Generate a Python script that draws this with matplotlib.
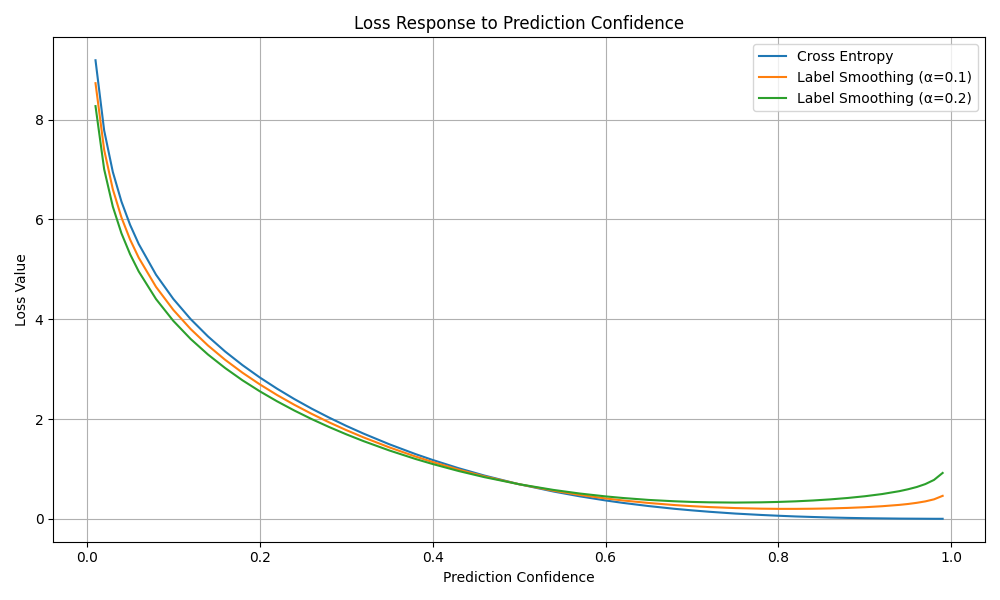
import matplotlib
matplotlib.use("Agg")
import matplotlib.pyplot as plt
import numpy as np

# prediction confidence values (x) and loss values
confidence = [0.01, 0.02, 0.03, 0.04, 0.05, 0.06, 0.08, 0.10, 0.12, 0.14,
              0.16, 0.18, 0.20, 0.22, 0.24, 0.26, 0.28, 0.30, 0.32, 0.35,
              0.38, 0.40, 0.43, 0.46, 0.50, 0.54, 0.57, 0.60, 0.62, 0.65,
              0.68, 0.70, 0.72, 0.75, 0.78, 0.80, 0.82, 0.84, 0.86, 0.88,
              0.90, 0.92, 0.94, 0.95, 0.96, 0.97, 0.98, 0.99]

cross_entropy = [9.190, 7.784, 6.953, 6.358, 5.892, 5.507, 4.892, 4.407, 4.003, 3.657,
                 3.352, 3.080, 2.833, 2.608, 2.400, 2.208, 2.030, 1.863, 1.708, 1.493,
                 1.298, 1.179, 1.014, 0.866, 0.693, 0.546, 0.451, 0.368, 0.319, 0.255,
                 0.200, 0.169, 0.141, 0.105, 0.077, 0.061, 0.047, 0.036, 0.026, 0.018,
                 0.012, 0.008, 0.004, 0.003, 0.002, 0.001, 0.000, 0.000]

smooth_01 = [8.731, 7.395, 6.606, 6.040, 5.597, 5.232, 4.648, 4.187, 3.804, 3.475,
             3.186, 2.928, 2.695, 2.481, 2.285, 2.104, 1.935, 1.778, 1.632, 1.431,
             1.249, 1.138, 0.986, 0.850, 0.693, 0.562, 0.479, 0.408, 0.368, 0.317,
             0.275, 0.253, 0.235, 0.215, 0.203, 0.199, 0.199, 0.202, 0.208, 0.218,
             0.232, 0.252, 0.279, 0.297, 0.320, 0.349, 0.390, 0.460]

smooth_02 = [8.271, 7.006, 6.258, 5.722, 5.303, 4.957, 4.404, 3.967, 3.605, 3.294,
             3.021, 2.776, 2.556, 2.355, 2.170, 1.999, 1.841, 1.694, 1.557, 1.369,
             1.200, 1.098, 0.958, 0.834, 0.693, 0.578, 0.507, 0.449, 0.417, 0.378,
             0.351, 0.338, 0.330, 0.325, 0.330, 0.338, 0.350, 0.367, 0.389, 0.417,
             0.452, 0.496, 0.554, 0.592, 0.637, 0.696, 0.779, 0.919]

plt.figure(figsize=(10, 6))
plt.plot(confidence, cross_entropy, label='Cross Entropy')
plt.plot(confidence, smooth_01, label='Label Smoothing (α=0.1)')
plt.plot(confidence, smooth_02, label='Label Smoothing (α=0.2)')

plt.title('Loss Response to Prediction Confidence')
plt.xlabel('Prediction Confidence')
plt.ylabel('Loss Value')
plt.legend()
plt.grid(True)
plt.tight_layout()
plt.savefig('out.png', dpi=100)
